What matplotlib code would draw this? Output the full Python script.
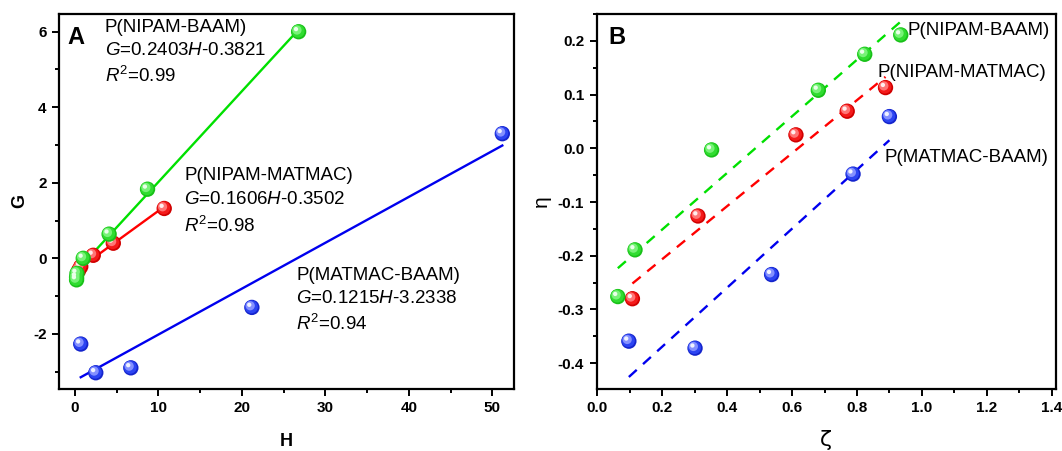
import numpy as np
import matplotlib
matplotlib.use("Agg")
import matplotlib.pyplot as plt
from matplotlib.transforms import offset_copy
from matplotlib.ticker import MultipleLocator, FormatStrFormatter

plt.rcParams['font.family'] = ['Liberation Sans', 'DejaVu Sans']
plt.rcParams['mathtext.fontset'] = 'custom'
plt.rcParams['mathtext.rm'] = 'Liberation Sans'
plt.rcParams['mathtext.it'] = 'Liberation Sans:italic'
plt.rcParams['mathtext.bf'] = 'Liberation Sans:bold'
plt.rcParams['axes.unicode_minus'] = False

# ---------------- Panel A data ----------------
H_nb = [26.8, 8.7, 4.1, 1.0, 0.25, 0.2, 0.2]
G_nb = [6.0, 1.83, 0.64, 0.0, -0.40, -0.50, -0.57]
H_nm = [10.7, 4.6, 2.2, 0.7, 0.45]
G_nm = [1.32, 0.40, 0.08, -0.22, -0.32]
H_mb = [51.2, 21.2, 6.7, 2.5, 0.7]
G_mb = [3.30, -1.30, -2.90, -3.03, -2.27]

# slope, intercept, H start, H end of the fitted lines
fit_nb = (0.2403, -0.3821, 0.1, 26.8)
fit_nm = (0.1606, -0.3502, 0.3, 10.7)
fit_mb = (0.1215, -3.2338, 0.7, 51.2)

# ---------------- Panel B data ----------------
z_nb = [0.063, 0.116, 0.352, 0.681, 0.824, 0.935]
e_nb = [-0.276, -0.189, -0.003, 0.108, 0.175, 0.211]
z_nm = [0.108, 0.310, 0.612, 0.770, 0.888]
e_nm = [-0.280, -0.126, 0.025, 0.069, 0.113]
z_mb = [0.097, 0.301, 0.537, 0.788, 0.900]
e_mb = [-0.359, -0.372, -0.235, -0.048, 0.059]

labels = ['P(NIPAM-BAAM)', 'P(NIPAM-MATMAC)', 'P(MATMAC-BAAM)']

line_cols = {'g': '#00e000', 'r': '#ff0000', 'b': '#0000ee'}
ball_cols = {
    'g': ['#18c018', '#30dc30', '#78f278', '#eaffea'],
    'r': ['#d00000', '#f41a1a', '#ff7575', '#ffeeee'],
    'b': ['#1424cc', '#2c44f2', '#8490ff', '#f0f2ff'],
}

fig = plt.figure(figsize=(10.62, 4.51), dpi=100)
axA = fig.add_axes([0.0556, 0.1375, 0.4284, 0.8315])
axB = fig.add_axes([0.5619, 0.1375, 0.4320, 0.8315])


def balls(ax, x, y, key, s=122):
    cols = ball_cols[key]
    sizes = [s, s * 0.72, s * 0.36, s * 0.08]
    offs = [(0, 0), (-0.4, 0.4), (-1.2, 1.2), (-1.9, 1.9)]
    for c, sz, (dx, dy) in zip(cols, sizes, offs):
        tr = offset_copy(ax.transData, fig=fig, x=dx, y=dy, units='points')
        ax.scatter(x, y, s=sz, color=c, edgecolors='none', transform=tr, zorder=5)


def style(ax):
    for sp in ax.spines.values():
        sp.set_linewidth(1.6)
    ax.tick_params(which='both', direction='out', top=False, right=False, width=1.4)
    ax.tick_params(which='major', length=5, labelsize=11, pad=4)
    ax.tick_params(which='minor', length=3)
    for lab in ax.get_xticklabels() + ax.get_yticklabels():
        lab.set_fontweight('bold')

# ---------------- Panel A ----------------
for (m, b, x0, x1), k in zip([fit_mb, fit_nm, fit_nb], ['b', 'r', 'g']):
    xx = np.array([x0, x1])
    axA.plot(xx, m * xx + b, color=line_cols[k], lw=1.7, zorder=3)
balls(axA, H_mb, G_mb, 'b')
balls(axA, H_nm, G_nm, 'r')
balls(axA, H_nb, G_nb, 'g')

axA.set_xlim(-1.9, 52.6)
axA.set_ylim(-3.46, 6.47)
axA.xaxis.set_major_locator(MultipleLocator(10))
axA.xaxis.set_minor_locator(MultipleLocator(5))
axA.yaxis.set_major_locator(MultipleLocator(2))
axA.yaxis.set_minor_locator(MultipleLocator(1))
style(axA)
axA.set_xlabel('H', fontsize=13, fontweight='bold')
axA.set_ylabel('G', fontsize=13, fontweight='bold')
axA.xaxis.set_label_coords(0.5, -0.117)
axA.yaxis.set_label_coords(-0.068, 0.5)

fs = 13.5
ann = [
    (3.6, [6.12, 5.50, 4.83], labels[0], '0.2403H-0.3821', '0.99'),
    (13.1, [2.19, 1.56, 0.87], labels[1], '0.1606H-0.3502', '0.98'),
    (26.5, [-0.46, -1.06, -1.74], labels[2], '0.1215H-3.2338', '0.94'),
]
for x, ys, name, eq, r2 in ann:
    axA.text(x, ys[0], name, fontsize=fs, va='center', ha='left')
    coef = eq.split('H')
    axA.text(x, ys[1], r'$G$=' + coef[0] + r'$H$' + coef[1], fontsize=fs, va='center', ha='left')
    axA.text(x, ys[2], r'$R^{2}$=' + r2, fontsize=fs, va='center', ha='left')
axA.text(0.019, 0.938, 'A', transform=axA.transAxes, fontsize=17, fontweight='bold', va='center', ha='left')

# ---------------- Panel B ----------------
for z, e, k in [(z_mb, e_mb, 'b'), (z_nm, e_nm, 'r'), (z_nb, e_nb, 'g')]:
    p = np.polyfit(z, e, 1)
    zz = np.array([min(z), max(z)])
    axB.plot(zz, np.polyval(p, zz), color=line_cols[k], lw=1.7, ls=(0, (4.5, 3.6)), zorder=3)
balls(axB, z_mb, e_mb, 'b')
balls(axB, z_nm, e_nm, 'r')
balls(axB, z_nb, e_nb, 'g')

axB.set_xlim(-0.002, 1.412)
axB.set_ylim(-0.448, 0.25)
axB.xaxis.set_major_locator(MultipleLocator(0.2))
axB.xaxis.set_minor_locator(MultipleLocator(0.1))
axB.yaxis.set_major_locator(MultipleLocator(0.1))
axB.yaxis.set_minor_locator(MultipleLocator(0.05))
axB.xaxis.set_major_formatter(FormatStrFormatter('%.1f'))
axB.yaxis.set_major_formatter(FormatStrFormatter('%.1f'))
style(axB)
axB.set_xlabel('ζ', fontsize=16, family=['DejaVu Sans'])
axB.set_ylabel('η', fontsize=15)
axB.xaxis.set_label_coords(0.5, -0.11)
axB.yaxis.set_label_coords(-0.1, 0.5)

axB.text(0.957, 0.220, labels[0], fontsize=fs, va='center', ha='left')
axB.text(0.863, 0.142, labels[1], fontsize=fs, va='center', ha='left')
axB.text(0.884, -0.018, labels[2], fontsize=fs, va='center', ha='left')
axB.text(0.025, 0.938, 'B', transform=axB.transAxes, fontsize=17, fontweight='bold', va='center', ha='left')

fig.savefig('out.png', dpi=100)
